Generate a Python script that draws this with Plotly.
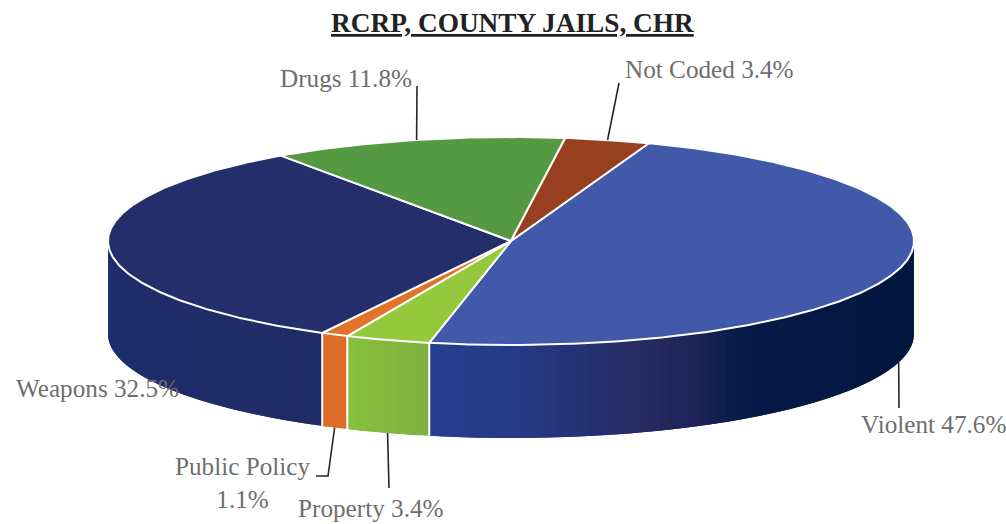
import numpy as np
import plotly.graph_objects as go

categories = ["Violent", "Property", "Public Policy", "Weapons", "Drugs", "Not Coded"]
values = [47.6, 3.4, 1.1, 32.5, 11.8, 3.4]
label_text = ["Violent 47.6%", "Property 3.4%", "Public Policy<br>1.1%", "Weapons 32.5%", "Drugs 11.8%", "Not Coded 3.4%"]
title_text = "RCRP, COUNTY JAILS, CHR"

top_colors = ["#4159A8", "#95C93D", "#E2732A", "#232E6A", "#559A42", "#973F1E"]
# wall gradient per slice: (screen x, colour)
wall_stops = {
    "Violent": [(431, "#27408F"), (520, "#253A85"), (600, "#25306F"), (640, "#272C63"), (700, "#1C2355"), (745, "#061A47"), (915, "#02173F")],
    "Property": [(348, "#88C03E"), (431, "#7FB03F")],
    "Public Policy": [(322, "#DC6C27"), (348, "#DC6C27")],
    "Weapons": [(107, "#1F2D6C"), (322, "#212C65")],
    "Drugs": [(107, "#3F7A30"), (915, "#3F7A30")],
    "Not Coded": [(107, "#7A3015"), (915, "#7A3015")],
}

CX, CY, RX, RY, DEPTH = 511, 241, 403, 104, 93
START = 70.0


def px(t):
    return CX + RX * np.cos(np.radians(t))


def py(t, d=0):
    return CY - RY * np.sin(np.radians(t)) + d


def hex2rgb(h):
    return np.array([int(h[i:i + 2], 16) for i in (1, 3, 5)], float)


def grad(stops, x):
    xs = [s[0] for s in stops]
    cs = np.array([hex2rgb(s[1]) for s in stops])
    return "rgb(%d,%d,%d)" % tuple(np.interp(x, xs, cs[:, i]) for i in range(3))


fig = go.Figure()
common = dict(mode="lines", hoverinfo="skip", showlegend=False)

# slice angle ranges, clockwise from START
bounds = START - np.cumsum([0] + values) * 360.0 / sum(values)

# side wall, visible for angles between 0 and -180
for i, cat in enumerate(categories):
    a0, a1 = min(bounds[i], 0), max(bounds[i + 1], -180)
    if a0 <= a1:
        continue
    n = max(2, int((a0 - a1) / 1.5))
    edges = np.linspace(a0, a1, n + 1)
    for j in range(n):
        u, v = edges[j], edges[j + 1]
        # each strip runs under the next one so that no seams show
        w = np.linspace(u, edges[min(j + 2, n)], 8)
        col = grad(wall_stops[cat], (px(u) + px(v)) / 2)
        fig.add_trace(go.Scatter(
            x=np.r_[px(w), px(w[::-1]), px(w[0])],
            y=np.r_[py(w), py(w[::-1], DEPTH), py(w[0])],
            fill="toself", fillcolor=col, line=dict(color=col, width=0), **common))

# white seams between slices on the wall
for i in range(len(categories) + 1):
    b = ((bounds[i] + 180) % 360) - 180
    if -180 < b < 0:
        fig.add_trace(go.Scatter(x=[px(b), px(b)], y=[py(b), py(b, DEPTH)],
                                 line=dict(color="white", width=2), **common))

# top face
for i, cat in enumerate(categories):
    ts = np.linspace(bounds[i], bounds[i + 1], max(3, int(abs(values[i]) * 3.6 * 2)))
    fig.add_trace(go.Scatter(
        x=np.r_[CX, px(ts), CX], y=np.r_[CY, py(ts), CY],
        fill="toself", fillcolor=top_colors[i], name=cat,
        line=dict(color="white", width=2), **common))

# leader lines start at each slice's mid angle
mids = (bounds[:-1] + bounds[1:]) / 2
leader_ends = {
    "Violent": [(899, 408)],
    "Property": [(389, 488)],
    "Public Policy": [(328, 476), (316, 476)],
    "Drugs": [(417, 86)],
    "Not Coded": [(619, 83)],
}
for i, cat in enumerate(categories):
    if cat not in leader_ends:
        continue
    on_wall = np.sin(np.radians(mids[i])) < 0
    xs = [px(mids[i])] + [p[0] for p in leader_ends[cat]]
    ys = [py(mids[i], DEPTH if on_wall else 0)] + [p[1] for p in leader_ends[cat]]
    fig.add_trace(go.Scatter(x=xs, y=ys, line=dict(color="#262626", width=1.6), **common))

label_pos = {
    "Violent": (933, 424),
    "Property": (371, 508),
    "Public Policy": (242, 483),
    "Weapons": (97, 388),
    "Drugs": (346, 78),
    "Not Coded": (709, 69),
}
LABEL_FONT = dict(family="Liberation Serif", size=25.2, color="#6E6E6E")
for i, cat in enumerate(categories):
    fig.add_annotation(x=label_pos[cat][0], y=label_pos[cat][1], text=label_text[i],
                       showarrow=False, xanchor="center", yanchor="middle", font=LABEL_FONT)
fig.add_annotation(x=512, y=23, text="<b><u>%s</u></b>" % title_text, showarrow=False,
                   xanchor="center", yanchor="middle",
                   font=dict(family="Liberation Serif", size=27.3, color="#222222"))

fig.update_layout(
    width=1006, height=524, margin=dict(l=0, r=0, t=0, b=0),
    paper_bgcolor="white", plot_bgcolor="white",
    xaxis=dict(range=[0, 1006], visible=False, fixedrange=True),
    yaxis=dict(range=[524, 0], visible=False, fixedrange=True),
)
fig.write_html("out.html", config=dict(displayModeBar=False),
               post_script="document.body.style.margin='0';document.body.style.overflow='hidden';")
